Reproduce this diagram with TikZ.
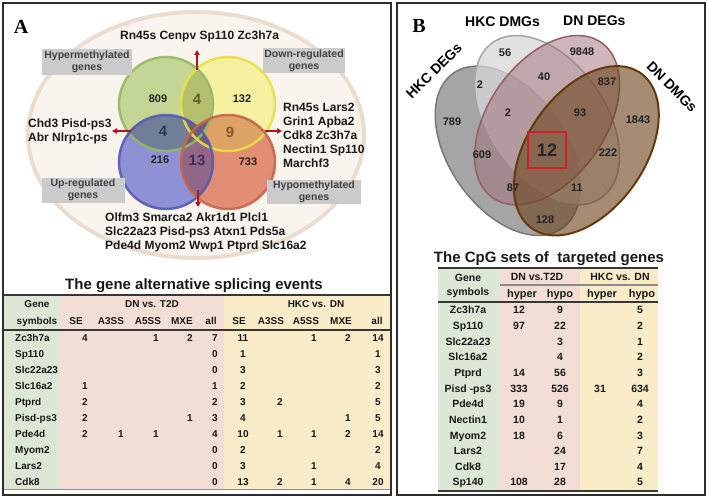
\documentclass[tikz,border=0pt]{standalone}
\usepackage{fontspec}
\setmainfont{Liberation Sans}
\newfontfamily\serifface{Liberation Serif}
\usetikzlibrary{arrows.meta}
\definecolor{frameC}{RGB}{45,45,45}
\definecolor{txtC}{RGB}{25,25,25}
\definecolor{numC}{RGB}{35,35,35}
\definecolor{ellF}{RGB}{249,244,237}
\definecolor{ellD}{RGB}{234,221,208}
\definecolor{gF}{RGB}{196,214,150}
\definecolor{yF}{RGB}{246,241,160}
\definecolor{bF}{RGB}{142,146,212}
\definecolor{oF}{RGB}{226,142,116}
\definecolor{gyF}{RGB}{180,192,112}
\definecolor{gbF}{RGB}{112,126,152}
\definecolor{yoF}{RGB}{220,162,102}
\definecolor{boF}{RGB}{145,102,135}
\definecolor{allF}{RGB}{110,95,115}
\definecolor{gD}{RGB}{150,185,100}
\definecolor{yD}{RGB}{230,224,70}
\definecolor{bD}{RGB}{85,90,180}
\definecolor{oD}{RGB}{200,100,75}
\definecolor{c4a}{RGB}{95,100,40}
\definecolor{c4b}{RGB}{45,55,85}
\definecolor{c9}{RGB}{140,85,40}
\definecolor{c13}{RGB}{65,45,85}
\definecolor{boxG}{RGB}{203,203,203}
\definecolor{boxT}{RGB}{65,65,65}
\definecolor{arrC}{RGB}{176,22,30}
\definecolor{tgreen}{RGB}{221,231,213}
\definecolor{tpink}{RGB}{243,222,214}
\definecolor{tyel}{RGB}{250,236,201}
\definecolor{ruleC}{RGB}{55,55,55}
\definecolor{ruleG}{RGB}{140,140,140}
\definecolor{v1F}{RGB}{140,140,140}
\definecolor{v1D}{RGB}{120,120,120}
\definecolor{v2F}{RGB}{215,215,215}
\definecolor{v2D}{RGB}{165,165,165}
\definecolor{v3F}{RGB}{160,110,120}
\definecolor{v3D}{RGB}{150,95,100}
\definecolor{v4F}{RGB}{110,70,30}
\definecolor{v4D}{RGB}{100,58,12}
\definecolor{redbox}{RGB}{210,30,40}
\tikzset{
  panelframe/.style={draw=frameC, line width=1.6pt},
  genetxt/.style={font=\fontsize{12}{14}\selectfont\bfseries, text=txtC, inner sep=0pt, anchor=base west},
  graybox/.style={fill=boxG, text=boxT, font=\fontsize{10.5}{12}\selectfont\bfseries, align=center, inner sep=0pt},
  vcirc/.style={circle, minimum size=94pt, inner sep=0pt, line width=2.5pt, draw opacity=0.9},
  vnum/.style={font=\fontsize{11}{13}\selectfont\bfseries, text=numC, inner sep=0pt},
  vbig/.style={font=\fontsize{15}{17}\selectfont\bfseries, inner sep=0pt},
  redarr/.style={draw=arrC, line width=1.6pt, -{Triangle[length=5pt,width=5.5pt]}},
  ttitle/.style={font=\fontsize{15}{17}\selectfont\bfseries, text=txtC, inner sep=0pt, anchor=base},
  ta/.style={font=\fontsize{10}{12}\selectfont\bfseries, text=txtC, inner sep=0pt, anchor=base},
  tb/.style={font=\fontsize{10.5}{12}\selectfont\bfseries, text=txtC, inner sep=0pt, anchor=base},
  bnum/.style={font=\fontsize{11}{13}\selectfont\bfseries, text=numC, inner sep=0pt},
  blabel/.style={font=\fontsize{14}{16}\selectfont\bfseries, text=black, inner sep=0pt},
  letter/.style={font=\fontsize{20}{22}\selectfont\serifface\bfseries, inner sep=0pt},
}
\begin{document}
\begin{tikzpicture}[x=1pt,y=-1pt]
\useasboundingbox (0,0) rectangle (708,500);
\fill[white] (0,0) rectangle (708,500);

%================ PANEL A =================
\draw[fill=ellF, draw=ellD, line width=4pt] (196,135) ellipse [x radius=168, y radius=123];

\coordinate (cG) at (166,104);
\coordinate (cY) at (228,104);
\coordinate (cB) at (166,162);
\coordinate (cO) at (228,162);
\fill[gF] (cG) circle [radius=47];
\fill[yF] (cY) circle [radius=47];
\fill[bF] (cB) circle [radius=47];
\fill[oF] (cO) circle [radius=47];
\begin{scope}\clip (cG) circle [radius=47];
  \fill[gyF] (cY) circle [radius=47];
  \fill[gbF] (cB) circle [radius=47];
\end{scope}
\begin{scope}\clip (cO) circle [radius=47];
  \fill[yoF] (cY) circle [radius=47];
  \fill[boF] (cB) circle [radius=47];
\end{scope}
\begin{scope}\clip (cG) circle [radius=47];
  \fill[allF] (cO) circle [radius=47];
\end{scope}
\begin{scope}\clip (cY) circle [radius=47];
  \fill[allF] (cB) circle [radius=47];
\end{scope}
\node[vcirc, draw=gD] (circG) at (cG) {};
\node[vcirc, draw=yD] (circY) at (cY) {};
\node[vcirc, draw=bD] (circB) at (cB) {};
\node[vcirc, draw=oD] (circO) at (cO) {};

\node[vnum] (n809) at (158,99) {809};
\node[vbig, text=c4a] (n4a) at (197,99) {4};
\node[vnum] (n132) at (242,99) {132};
\node[vbig, text=c4b] (n4b) at (163,131) {4};
\node[vbig, text=c9] (n9) at (230,132) {9};
\node[vnum] (n216) at (160,160) {216};
\node[vbig, text=c13] (n13) at (197,160) {13};
\node[vnum] (n733) at (248,162) {733};

\node[graybox, minimum width=90pt, minimum height=26pt] (bxHyper) at (87,62) {Hypermethylated\\genes};
\node[graybox, minimum width=82pt, minimum height=25pt] (bxDown) at (304,61) {Down-regulated\\genes};
\node[graybox, minimum width=83pt, minimum height=25pt] (bxUp) at (83,190) {Up-regulated\\genes};
\node[graybox, minimum width=94pt, minimum height=24pt] (bxHypo) at (314,192) {Hypomethylated\\genes};

\coordinate (au1) at (197,70); \coordinate (au2) at (197,50);
\coordinate (al1) at (131,131); \coordinate (al2) at (112,131);
\coordinate (ar1) at (265,131); \coordinate (ar2) at (282,131);
\coordinate (ad1) at (198,190); \coordinate (ad2) at (198,207);
\draw[redarr] (au1) -- (au2);
\draw[redarr] (al1) -- (al2);
\draw[redarr] (ar1) -- (ar2);
\draw[redarr] (ad1) -- (ad2);

\node[genetxt] (gtop) at (120,39.5) {Rn45s Cenpv Sp110 Zc3h7a};
\node[genetxt] (gl1) at (28,127.5) {Chd3 Pisd-ps3};
\node[genetxt] (gl2) at (28,141.5) {Abr Nlrp1c-ps};
\node[genetxt] (gr1) at (283,111.5) {Rn45s Lars2};
\node[genetxt] (gr2) at (283,125.5) {Grin1 Apba2};
\node[genetxt] (gr3) at (283,139.5) {Cdk8 Zc3h7a};
\node[genetxt] (gr4) at (283,153.5) {Nectin1 Sp110};
\node[genetxt] (gr5) at (283,167.5) {Marchf3};
\node[genetxt] (gb1) at (105,221.5) {Olfm3 Smarca2 Akr1d1 Plcl1};
\node[genetxt] (gb2) at (105,235.5) {Slc22a23 Pisd-ps3 Atxn1 Pds5a};
\node[genetxt] (gb3) at (105,249.5) {Pde4d Myom2 Wwp1 Ptprd Slc16a2};

\node[letter] (letA) at (21,27) {A};

% table A
\node[ttitle] (titA) at (194,289.5) {The gene alternative splicing events};
\fill[tgreen] (4,295) rectangle (60,489);
\fill[tpink] (60,295) rectangle (224,489);
\fill[tyel] (224,295) rectangle (390,489);
\draw[ruleC, line width=1.6pt] (4,295) -- (390,295);
\draw[ruleC, line width=1.2pt] (4,330) -- (390,330);
\draw[ruleG, line width=1pt] (4,489) -- (390,489);

\node[ta] (hGene) at (37,307.6) {Gene};
\node[ta] (hSym) at (37,324.6) {symbols};
\node[ta] (hDN) at (152,307.6) {DN vs. T2D};
\node[ta] (hHKC) at (316,307.6) {HKC vs. DN};
\foreach \lbl/\xx [count=\k] in {SE/76, A3SS/111, A5SS/148, MXE/182, all/211, SE/239, A3SS/271, A5SS/306, MXE/341, all/377}{
  \node[ta] (hs\k) at (\xx,324.6) {\lbl};
}
\foreach \g/\va/\vb/\vc/\vd/\ve/\vf/\vg/\vh/\vi/\vj [count=\r from 0] in {
 Zc3h7a/4//1/2/7/11//1/2/14,
 Sp110/////0/1////1,
 Slc22a23/////0/3////3,
 Slc16a2/1////1/2////2,
 Ptprd/2////2/3/2///5,
 Pisd-ps3/2///1/3/4///1/5,
 Pde4d/2/1/1//4/10/1/1/2/14,
 Myom2/////0/2////2,
 Lars2/////0/3//1//4,
 Cdk8/////0/13/2/1/4/20}{
  \pgfmathsetmacro\yy{341.6+16*\r}
  \node[ta, anchor=base west] (ag\r) at (15,\yy) {\g};
  \node[ta] (aa\r) at (85,\yy) {\va};
  \node[ta] (ab\r) at (121,\yy) {\vb};
  \node[ta] (ac\r) at (156,\yy) {\vc};
  \node[ta] (ad\r) at (190,\yy) {\vd};
  \node[ta] (ae\r) at (215,\yy) {\ve};
  \node[ta] (af\r) at (243,\yy) {\vf};
  \node[ta] (ah\r) at (280,\yy) {\vg};
  \node[ta] (ai\r) at (314,\yy) {\vh};
  \node[ta] (aj\r) at (348,\yy) {\vi};
  \node[ta] (ak\r) at (378,\yy) {\vj};
}

%================ PANEL B =================
\node[letter] (letB) at (419,26) {B};
\begin{scope}[shift={(547,238)}, x=1pt, y=1pt, xscale=262, yscale=306]
  \draw[fill=v1F, fill opacity=0.78, draw=v1D, line width=1.5pt, rotate around={-45:(-0.15,0.285)}] (-0.15,0.285) ellipse [x radius=0.33, y radius=0.21];
  \draw[fill=v2F, fill opacity=0.75, draw=v2D, line width=1.5pt, rotate around={-45:(0,0.385)}] (0,0.385) ellipse [x radius=0.33, y radius=0.21];
  \draw[fill=v3F, fill opacity=0.5, draw=v3D, line width=1.5pt, rotate around={45:(0,0.385)}] (0,0.385) ellipse [x radius=0.33, y radius=0.21];
  \draw[fill=v4F, fill opacity=0.62, draw=v4D, line width=2pt, rotate around={45:(0.15,0.285)}] (0.15,0.285) ellipse [x radius=0.33, y radius=0.21];
\end{scope}

\node[blabel, anchor=base west] (lHKCDMG) at (465,27) {HKC DMGs};
\node[blabel, anchor=base west] (lDNDEG) at (563,26) {DN DEGs};
\node[blabel, rotate=45] (lHKCDEG) at (434,71) {HKC DEGs};
\node[blabel, rotate=-45] (lDNDMG) at (672,87) {DN DMGs};

\node[bnum] (b56) at (505,53) {56};
\node[bnum] (b9848) at (582,52) {9848};
\node[bnum] (b2a) at (480,85) {2};
\node[bnum] (b40) at (544,77) {40};
\node[bnum] (b837) at (607,82) {837};
\node[bnum] (b789) at (452,122) {789};
\node[bnum] (b2b) at (508,113) {2};
\node[bnum] (b93) at (580,113) {93};
\node[bnum] (b1843) at (638,120) {1843};
\node[bnum] (b609) at (482,155) {609};
\node[bnum] (b222) at (608,153) {222};
\node[bnum] (b87) at (513,188) {87};
\node[bnum] (b11) at (577,188) {11};
\node[bnum] (b128) at (545,220) {128};
\node[draw=redbox, line width=1.6pt, minimum width=38pt, minimum height=36pt, inner sep=0pt,
      font=\fontsize{18}{20}\selectfont\bfseries, text=black!85] (b12) at (547,150) {12};

% table B
\node[ttitle] (titB) at (549,262.4) {The CpG sets of\ \ targeted genes};
\fill[tgreen] (438,268) rectangle (500,491);
\fill[tpink] (500,268) rectangle (580,491);
\fill[tyel] (580,268) rectangle (658,491);
\draw[ruleC, line width=2pt] (438,268) -- (658,268);
\draw[ruleG, line width=2pt] (500,285) -- (658,285);
\draw[ruleC, line width=1.5pt] (438,302) -- (658,302);
\draw[ruleC, line width=2pt] (438,491) -- (658,491);

\node[tb] (hbGene) at (468,281.8) {Gene};
\node[tb] (hbSym) at (468,295.8) {symbols};
\node[tb] (hbDN) at (537,280.8) {DN vs.T2D};
\node[tb] (hbHKC) at (620,280.8) {HKC vs. DN};
\node[tb, font=\fontsize{11}{13}\selectfont\bfseries] (hb1) at (522,297) {hyper};
\node[tb, font=\fontsize{11}{13}\selectfont\bfseries] (hb2) at (560,297) {hypo};
\node[tb, font=\fontsize{11}{13}\selectfont\bfseries] (hb3) at (602,297) {hyper};
\node[tb, font=\fontsize{11}{13}\selectfont\bfseries] (hb4) at (642,297) {hypo};
\foreach \g/\va/\vb/\vc/\vd [count=\r from 0] in {
 Zc3h7a/12/9//5,
 Sp110/97/22//2,
 Slc22a23//3//1,
 Slc16a2//4//2,
 Ptprd/14/56//3,
 Pisd -ps3/333/526/31/634,
 Pde4d/19/9//4,
 Nectin1/10/1//2,
 Myom2/18/6//3,
 Lars2//24//7,
 Cdk8//17//4,
 Sp140/108/28//5}{
  \pgfmathsetmacro\yy{313.8+15.65*\r}
  \node[tb] (bg\r) at (468,\yy) {\g};
  \node[tb] (ba\r) at (519,\yy) {\va};
  \node[tb] (bb\r) at (560,\yy) {\vb};
  \node[tb] (bc\r) at (600,\yy) {\vc};
  \node[tb] (bd\r) at (640,\yy) {\vd};
}

% frames
\draw[panelframe] (3,3) rectangle (391,495);
\draw[panelframe] (397,3) rectangle (705,495);
\end{tikzpicture}
\end{document}
